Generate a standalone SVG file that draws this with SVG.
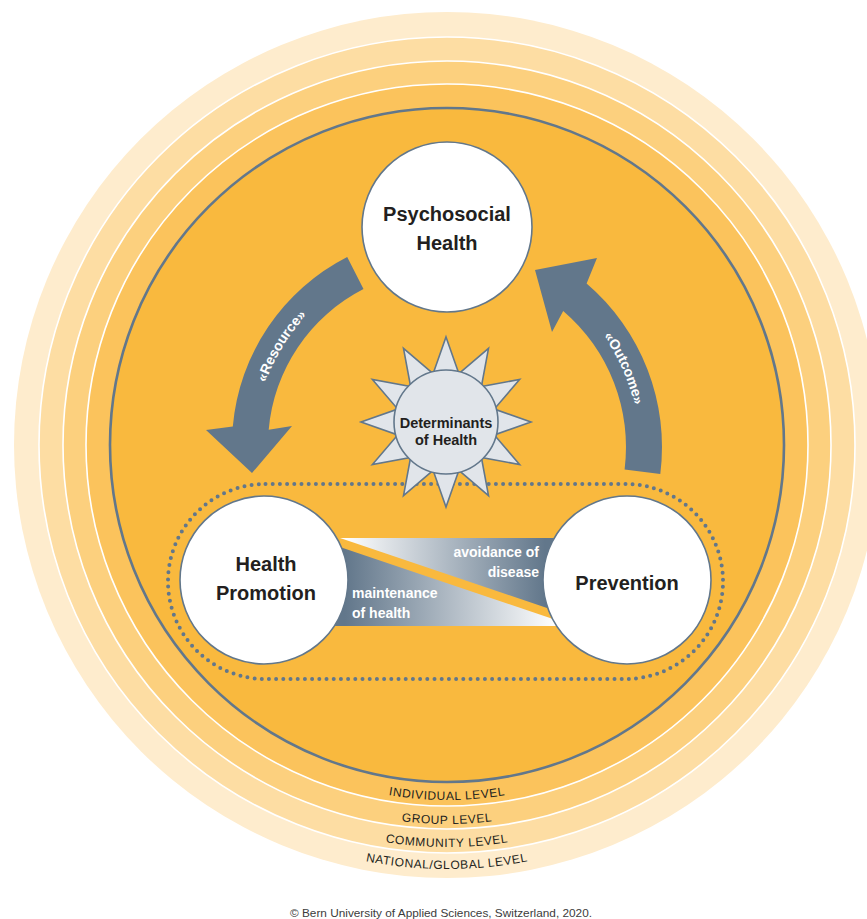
<svg xmlns="http://www.w3.org/2000/svg" xmlns:xlink="http://www.w3.org/1999/xlink" width="867" height="919" viewBox="0 0 867 919">
<style>
.ring{stroke:#FFFFFF;stroke-width:1.6}
.node{fill:#FFFFFF;stroke:#62778B;stroke-width:1.6}
.title{font-family:"Liberation Sans",Arial,sans-serif;font-weight:bold;font-size:20px;fill:#231F20;text-anchor:middle}
.band{font-family:"Liberation Sans",Arial,sans-serif;font-weight:bold;font-size:14px;fill:#FFFFFF}
.arrowlbl{font-family:"Liberation Sans",Arial,sans-serif;font-weight:bold;font-size:14px;fill:#FFFFFF}
.level{font-family:"Liberation Sans",Arial,sans-serif;font-size:12px;letter-spacing:0.6px;fill:#231F20}
.arrow{fill:#62778B}
</style>
<defs>
<linearGradient id="gUp" gradientUnits="userSpaceOnUse" x1="345" y1="0" x2="545" y2="0">
<stop offset="0" stop-color="#FFFFFF"/>
<stop offset="1" stop-color="#62778B"/>
</linearGradient>
<linearGradient id="gLow" gradientUnits="userSpaceOnUse" x1="345" y1="0" x2="556" y2="0">
<stop offset="0" stop-color="#62778B"/>
<stop offset="1" stop-color="#FFFFFF"/>
</linearGradient>
<path id="pInd" d="M 270.5,752.7 A 353 353 0 0 0 623.5,752.7"/>
<path id="pGrp" d="M 258.5,773.5 A 377 377 0 0 0 635.5,773.5"/>
<path id="pCom" d="M 247,793.4 A 400 400 0 0 0 647,793.4"/>
<path id="pNat" d="M 236,812.5 A 422 422 0 0 0 658,812.5"/>
<path id="pRes" d="M 255.1,451.6 A 188 188 0 0 1 363.55,274.6"/>
<path id="pOut" d="M 565.2,295.7 A 192 192 0 0 1 638.5,460.4"/>
</defs>
<rect width="867" height="919" fill="#FFFFFF"/>
<g id="levels">
<circle cx="447" cy="445" r="433" fill="#FEECCD"/>
<circle class="ring" cx="447" cy="445" r="408" fill="#FDDDA3"/>
<circle class="ring" cx="447" cy="445" r="384" fill="#FCD07E"/>
<circle class="ring" cx="447" cy="445" r="361" fill="#FBC35C"/>
<circle cx="447" cy="445" r="337" fill="#F9B93E" stroke="#62778B" stroke-width="2.6"/>
<text class="level"><textPath xlink:href="#pInd" href="#pInd" startOffset="50%" text-anchor="middle">INDIVIDUAL LEVEL</textPath></text>
<text class="level"><textPath xlink:href="#pGrp" href="#pGrp" startOffset="50%" text-anchor="middle">GROUP LEVEL</textPath></text>
<text class="level"><textPath xlink:href="#pCom" href="#pCom" startOffset="50%" text-anchor="middle">COMMUNITY LEVEL</textPath></text>
<text class="level"><textPath xlink:href="#pNat" href="#pNat" startOffset="50%" text-anchor="middle">NATIONAL/GLOBAL LEVEL</textPath></text>
</g>
<g id="pill">
<rect x="168" y="484" width="555" height="195" rx="97.5" ry="97.5" fill="none" stroke="#62778B" stroke-width="4" stroke-linecap="round" stroke-dasharray="0 7.2"/>
</g>
<g id="connectors">
<polygon points="340,538 600,538 600,626" fill="url(#gUp)"/>
<polygon points="300,533.5 573.7,626 300,626" fill="url(#gLow)"/>
<path id="resource-arrow" class="arrow" d="M 347.2,257 A 211 211 0 0 0 232.8,426.6 L 206,430 L 252,473 L 292,426 L 268.7,429.7 A 175 175 0 0 1 363.5,289.1 Z"/>
<path id="outcome-arrow" class="arrow" d="M 660.3,473.9 A 215 215 0 0 0 586.6,283.5 L 597,258 L 535,270 L 552,332 L 563.2,310.9 A 179 179 0 0 1 624.6,469.4 Z"/>
<text class="arrowlbl"><textPath xlink:href="#pRes" href="#pRes" startOffset="50%" text-anchor="middle">«Resource»</textPath></text>
<text class="arrowlbl"><textPath xlink:href="#pOut" href="#pOut" startOffset="50%" text-anchor="middle">«Outcome»</textPath></text>
<text class="band" x="539" y="557" text-anchor="end">avoidance of</text>
<text class="band" x="539" y="577" text-anchor="end">disease</text>
<text class="band" x="352" y="598">maintenance</text>
<text class="band" x="352" y="618">of health</text>
</g>
<g id="psychosocial-health">
<circle class="node" cx="447" cy="227" r="85"/>
<text class="title" x="447" y="221">Psychosocial</text>
<text class="title" x="447" y="250">Health</text>
</g>
<g id="health-promotion">
<circle class="node" cx="264" cy="580" r="84"/>
<text class="title" x="266" y="571">Health</text>
<text class="title" x="266" y="600">Promotion</text>
</g>
<g id="prevention">
<circle class="node" cx="627" cy="580" r="84"/>
<text class="title" x="627" y="590">Prevention</text>
</g>
<g id="determinants">
<polygon fill="#E1E5EA" stroke="#62778B" stroke-width="1.6" stroke-linejoin="miter" points="446,337 458.9,373.7 488.5,348.4 481.4,386.6 519.6,379.5 494.3,409.1 531,422 494.3,434.9 519.6,464.5 481.4,457.4 488.5,495.6 458.9,470.3 446,507 433.1,470.3 403.5,495.6 410.6,457.4 372.4,464.5 397.7,434.9 361,422 397.7,409.1 372.4,379.5 410.6,386.6 403.5,348.4 433.1,373.7"/>
<circle cx="446" cy="422" r="52" fill="#E1E5EA" stroke="#62778B" stroke-width="1.6"/>
<text class="title" x="446" y="428" style="font-size:14.5px">Determinants</text>
<text class="title" x="446" y="445" style="font-size:14.5px">of Health</text>
</g>
<text x="441" y="917" text-anchor="middle" textLength="302" lengthAdjust="spacingAndGlyphs" style="font-family:'Liberation Sans',Arial,sans-serif;font-size:11.5px;fill:#3C3C3C">© Bern University of Applied Sciences, Switzerland, 2020.</text>
</svg>
